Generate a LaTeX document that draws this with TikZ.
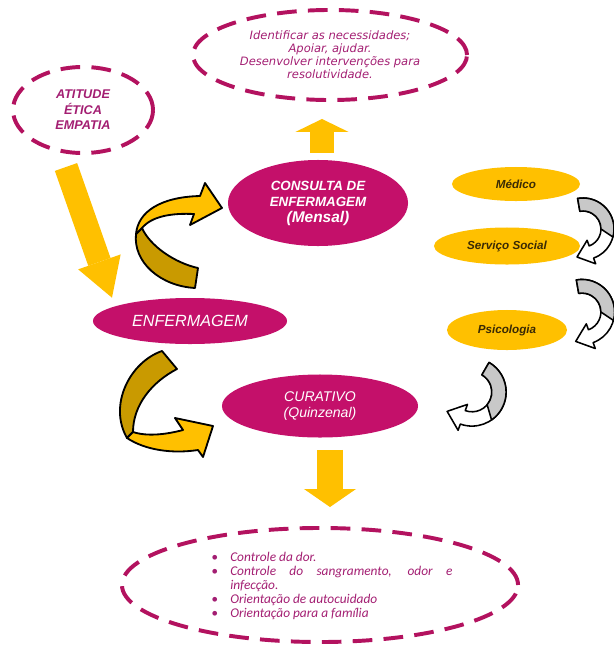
\documentclass[tikz,border=0pt]{standalone}
\usepackage{fontspec}
\setmainfont{Liberation Sans}
\newfontfamily\dejavu{DejaVu Sans}
\newfontfamily\carlito{Carlito}
\usetikzlibrary{shapes.geometric,arrows.meta}

\definecolor{rosa}{HTML}{C4106A}
\definecolor{rosatraco}{HTML}{B3125F}
\definecolor{rosatexto}{HTML}{A31E72}
\definecolor{ouro}{HTML}{FFC000}
\definecolor{ouroescuro}{HTML}{C99A00}
\definecolor{cinza}{HTML}{C8C8C8}
\definecolor{marrom}{HTML}{3A2A05}

\tikzset{
  dashbubble/.style={ellipse, draw=rosatraco, line width=2.8pt, dash pattern=on 14pt off 8pt, inner sep=0pt, text=rosatexto, align=center},
  pinkbubble/.style={ellipse, fill=rosa, inner sep=0pt, text=white, align=center},
  goldbubble/.style={ellipse, fill=ouro, inner sep=0pt, text=marrom, font=\bfseries\itshape\fontsize{8.3}{10}\selectfont},
  blockarrow/.style n args={3}{draw=ouro, line width=#1, -{Triangle[length=#2, width=#3, line width=0pt]}},
  ribbon/.style={draw=black, line width=1.3pt, line join=round},
  grayarrow/.pic={
    \filldraw[fill=white, draw=black, line width=1.1pt, line join=round] (-100:31) arc[start angle=-100, end angle=70, radius=31] -- (70:37) -- (-6,28) -- (70:12) -- (70:18) arc[start angle=70, end angle=-100, radius=18] -- cycle;
    \filldraw[fill=cinza, draw=black, line width=1.1pt, line join=round] (-100:31) arc[start angle=-100, end angle=15, radius=31] -- (0:18) arc[start angle=0, end angle=-100, radius=18] -- cycle;
  }
}

\begin{document}
\begin{tikzpicture}[x=0.025cm, y=-0.025cm]

\path[use as bounding box] (0,0) rectangle (613,645);

% dashed bubbles
\node[dashbubble, minimum width=6.85cm, minimum height=2.25cm, font=\dejavu\itshape\fontsize{8.2}{9.3}\selectfont] (need) at (330,55) {Identificar as necessidades;\\Apoiar, ajudar.\\Desenvolver intervenções para\\resolutividade.};

\node[dashbubble, minimum width=3.5cm, minimum height=2.15cm, font=\bfseries\itshape\fontsize{9}{11}\selectfont] (atitude) at (83,110) {ATITUDE\\ÉTICA\\EMPATIA};

\node[dashbubble, minimum width=9.9cm, minimum height=2.85cm] (cuidado) at (320,585) {};

\node[anchor=west, inner sep=0pt, text=rosatexto, font=\carlito\itshape\fontsize{9.5}{10}\selectfont] (cuidadolist) at ([shift={(-109,2)}]cuidado.center) {\begin{tabular}{@{}p{13.5pt}@{}p{158pt}@{}}
\textbullet & Controle da dor.\\
\textbullet & Controle do sangramento, odor e\linebreak infecção.\\
\textbullet & Orientação de autocuidado\\
\textbullet & Orientação para a família
\end{tabular}};

% pink bubbles
\node[pinkbubble, minimum width=4.85cm, minimum height=1.15cm, font=\itshape\fontsize{11.5}{13}\selectfont] (enf) at (190,321) {ENFERMAGEM};

\node[pinkbubble, minimum width=4.5cm, minimum height=2.15cm, font=\bfseries\itshape\fontsize{9.5}{11.4}\selectfont] (consulta) at (318,203) {CONSULTA DE\\ENFERMAGEM\\{\fontsize{11}{11.4}\selectfont(Mensal)}};

\node[pinkbubble, minimum width=4.9cm, minimum height=1.575cm, font=\itshape\fontsize{10}{11.5}\selectfont] (curativo) at (320,406) {CURATIVO\\(Quinzenal)};

% gold bubbles
\node[goldbubble, minimum width=3.2cm, minimum height=0.85cm] (medico) at (516,184) {Médico};
\node[goldbubble, minimum width=3.65cm, minimum height=0.925cm] (social) at (507,246) {Serviço Social};
\node[goldbubble, minimum width=3cm, minimum height=1cm] (psico) at (507,330) {Psicologia};

% block arrows
\draw[blockarrow={16.8pt}{27pt}{32pt}] ([shift={(-17,12)}]atitude.south) -- ([shift={(-78,0)}]enf.north);
\draw[blockarrow={16.4pt}{9.2pt}{37.7pt}] ([shift={(4,-7)}]consulta.north) -- ([shift={(-8,17)}]need.south);
\draw[blockarrow={17.8pt}{12.8pt}{37pt}] ([shift={(10,12)}]curativo.south) -- ([shift={(10,-19)}]cuidado.north);

% ribbon to consulta
\filldraw[ribbon, fill=ouroescuro] (136,234) .. controls (133,262) and (160,286) .. (195,288) -- (198,268) .. controls (175,263) and (150,246) .. (142,228) -- cycle;
\filldraw[ribbon, fill=ouro] (136,234) .. controls (138,212) and (160,197) .. (200,196) -- (205,183) -- (222,208) -- (190,225) -- (194,214) .. controls (172,213) and (152,216) .. (142,228) -- cycle;

% ribbon to curativo
\filldraw[ribbon, fill=ouroescuro] (162,351) .. controls (130,362) and (108,405) .. (127,438) -- (133,432) .. controls (133,405) and (152,382) .. (177,369) -- cycle;
\filldraw[ribbon, fill=ouro] (133,432) .. controls (148,437) and (168,434) .. (183,430) -- (175,418) -- (213,426) -- (203,457) -- (198,450) .. controls (172,454) and (145,450) .. (127,438) -- cycle;

% gray arrows
\pic at (583,229) {grayarrow};
\pic[scale=1.05] at (582,312) {grayarrow};
\pic[rotate=-40, scale=1.1] at (472,392) {grayarrow};

\end{tikzpicture}
\end{document}
